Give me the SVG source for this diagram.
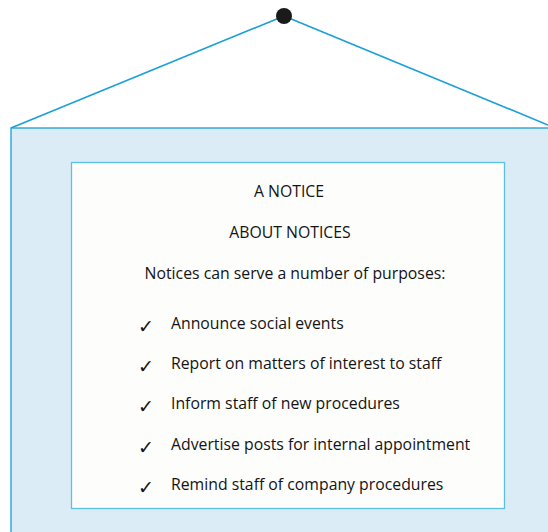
<svg xmlns="http://www.w3.org/2000/svg" width="548" height="532" viewBox="0 0 548 532">
<style>
.t{font-family:"Open Sans","Liberation Sans",sans-serif;font-size:15.8px;fill:#141414}
.c{text-anchor:middle}
.ck{font-family:"DejaVu Sans",sans-serif;font-size:19px;fill:#141414}
</style>
<rect width="548" height="532" fill="#ffffff"/>
<g id="connectors" fill="none" stroke="#1a9fd8" stroke-width="1.6">
<line x1="11" y1="128" x2="284" y2="16"/>
<line x1="284" y1="16" x2="548" y2="125"/>
</g>
<g id="board">
<rect x="11" y="128" width="545" height="420" fill="#dcecf7" stroke="#1a9fd8" stroke-width="1.3"/>
</g>
<g id="pin"><circle cx="284" cy="16" r="8" fill="#1a1a1a"/></g>
<g id="notice">
<rect x="71.5" y="162.5" width="433" height="346" fill="#fdfdfc" stroke="#5bc0e6" stroke-width="1.3"/>
<text class="t c" x="289" y="197">A NOTICE</text>
<text class="t c" x="290" y="238">ABOUT NOTICES</text>
<text class="t c" x="295" y="279">Notices can serve a number of purposes:</text>
<text class="ck" x="138" y="333">✓</text>
<text class="t" x="171" y="329">Announce social events</text>
<text class="ck" x="138" y="373">✓</text>
<text class="t" x="171" y="369">Report on matters of interest to staff</text>
<text class="ck" x="138" y="413">✓</text>
<text class="t" x="171" y="409">Inform staff of new procedures</text>
<text class="ck" x="138" y="454">✓</text>
<text class="t" x="171" y="450">Advertise posts for internal appointment</text>
<text class="ck" x="138" y="494">✓</text>
<text class="t" x="171" y="490">Remind staff of company procedures</text>
</g>
</svg>
